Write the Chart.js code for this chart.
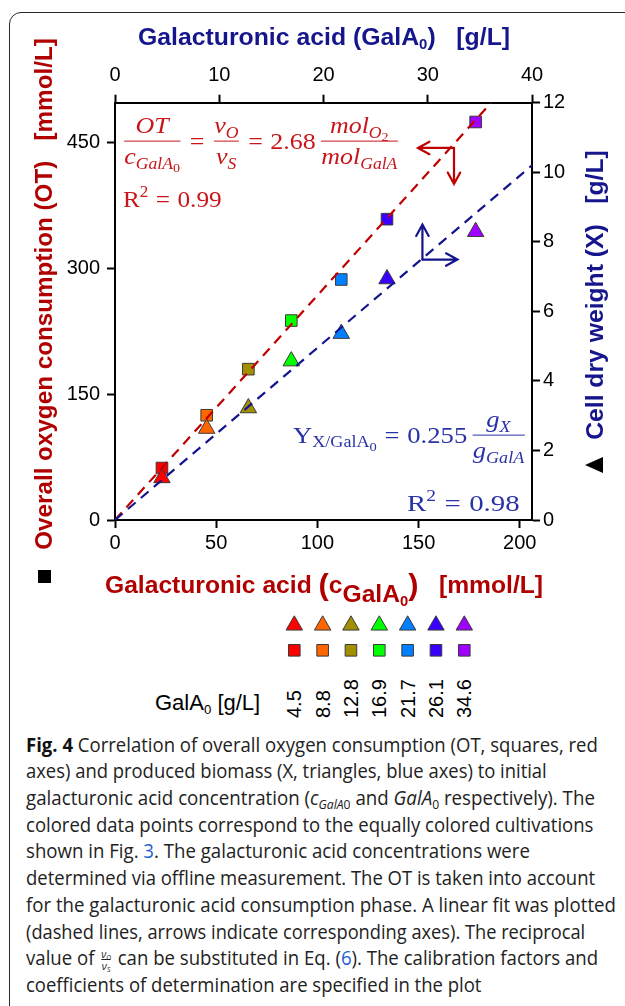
<!DOCTYPE html>
<html><head><meta charset="utf-8">
<script src="https://cdn.jsdelivr.net/npm/chart.js@4.4.1/dist/chart.umd.min.js"></script>
<style>
html,body{margin:0;padding:0;background:#fff;}
body{width:625px;height:1006px;position:relative;overflow:hidden;font-family:"Liberation Sans",Arial,sans-serif;}
#frame{position:absolute;left:9px;top:12px;width:720px;height:1100px;border:1.5px solid #2a2a2a;border-radius:12px;box-sizing:border-box;}
#main{position:absolute;left:0;top:0;}
#leg{position:absolute;left:280px;top:610px;}
.t{position:absolute;white-space:pre;font-weight:bold;line-height:1;font-size:23px;}
.t sub{font-size:60%;position:relative;top:0.3em;vertical-align:baseline;line-height:0;}
.navy{color:#15158c;}
.dred{color:#b00000;}
.eq{position:absolute;display:flex;align-items:center;font-family:"Liberation Serif","DejaVu Serif",serif;font-size:24px;white-space:nowrap;line-height:1.15;}
.eq i{font-style:italic;}
.frac{display:inline-flex;flex-direction:column;align-items:center;margin:0 2px;}
.frac .bar{align-self:stretch;height:1.6px;background:currentColor;margin:1px 0;}
.op{margin:0 7px;}
.eq sub{font-size:0.68em;position:relative;top:0.3em;vertical-align:baseline;line-height:0;}
.eq sub sub{font-size:0.8em;top:0.25em;}
.eq sup{font-size:0.68em;position:relative;top:-0.45em;vertical-align:baseline;line-height:0;}
.red{color:#c8161b;}
.blue{color:#2a33a6;}
.lab{position:absolute;white-space:nowrap;font-size:20px;line-height:1;transform-origin:0 0;transform:rotate(-90deg) translate(0,-50%);color:#000;}
.cl{position:absolute;left:26px;white-space:nowrap;font-family:"Open Sans","Noto Sans",sans-serif;font-size:20px;line-height:26.7px;height:26.7px;color:#222;transform-origin:0 50%;}
.cl b{color:#111;}
.cl sub{font-size:65%;position:relative;top:0.3em;vertical-align:baseline;line-height:0;}
.lnk{color:#1f5fd1;}
.sf{display:inline-flex;flex-direction:column;align-items:center;font-size:11px;line-height:1;vertical-align:middle;font-style:italic;margin:0 2px;}
.sf .b{align-self:stretch;height:1px;background:#222;}
</style>
</head><body>
<div id="frame"></div>
<canvas id="main" width="625" height="600"></canvas>
<canvas id="leg" width="200" height="55"></canvas>

<div class="t navy" id="tTop">Galacturonic acid (GalA<sub>0</sub>)   [g/L]</div>
<div class="t dred" id="tBot">Galacturonic acid <span style="font-size:125%;position:relative;top:0.06em">(</span>c<span style="position:relative;top:0.4em">GalA<sub>0</sub></span><span style="font-size:125%;position:relative;top:0.06em">)</span>   [mmol/L]</div>
<div class="t dred" id="tLeft">Overall oxygen consumption (OT)   [mmol/L]</div>
<div class="t navy" id="tRight">Cell dry weight (X)   [g/L]</div>
<div id="sq" style="position:absolute;left:38px;top:570px;width:13px;height:13px;background:#000;"></div>
<div id="tri" style="position:absolute;left:585px;top:457px;width:0;height:0;border-top:8px solid transparent;border-bottom:8px solid transparent;border-right:18px solid #000;"></div>

<div class="eq red" id="eqRed" style="left:122px;top:141px;">
  <span class="frac"><span><i>OT</i></span><span class="bar"></span><span><i>c</i><sub><i>GalA</i><sub>0</sub></sub></span></span>
  <span class="op">=</span>
  <span class="frac"><span><i>ν</i><sub><i>O</i></sub></span><span class="bar"></span><span><i>ν</i><sub><i>S</i></sub></span></span>
  <span class="op">=</span><span>2.68</span>
  <span class="frac" style="margin-left:5px"><span><i>mol</i><sub><i>O</i><sub>2</sub></sub></span><span class="bar"></span><span><i>mol</i><sub><i>GalA</i></sub></span></span>
</div>
<div class="eq red" id="r2Red" style="left:123px;top:200px;">R<sup>2</sup><span class="op">=</span>0.99</div>
<div class="eq blue" id="eqBlue" style="left:293px;top:435px;">
  <span>Y<sub>X/GalA<sub>0</sub></sub></span><span class="op">=</span><span>0.255</span>
  <span class="frac" style="margin-left:5px"><span><i>g</i><sub><i>X</i></sub></span><span class="bar"></span><span><i>g</i><sub><i>GalA</i></sub></span></span>
</div>
<div class="eq blue" id="r2Blue" style="left:407px;top:504px;">R<sup>2</sup><span class="op">=</span>0.98</div>

<div id="galLab" style="position:absolute;left:155px;top:692px;font-size:22px;line-height:1;white-space:nowrap;">GalA<sub style="font-size:60%;position:relative;top:0.3em;vertical-align:baseline;line-height:0">0</sub> [g/L]</div>
<div id="labs"></div>

<div id="cap"></div>

<script>
// ---------------- data ----------------
const galA_gL   = [4.5, 8.8, 12.8, 16.9, 21.7, 26.1, 34.6];          // legend labels (g/L)
const galA_mmol = [23.2, 45.3, 65.9, 87.1, 111.8, 134.4, 178.2];     // x values (mmol/L)
const otValues  = [62, 125, 180, 238, 287, 359, 475];                // overall oxygen consumption (mmol/L)
const cdwValues = [1.21, 2.63, 3.22, 4.57, 5.36, 6.93, 8.29];        // cell dry weight (g/L)
const pointColors = ['#ff0000', '#ff6600', '#a39000', '#00ff00', '#0080ff', '#3a00ff', '#a000ff'];
const OT_SLOPE = 2.68;      // mol O2 / mol GalA
const X_YIELD = 0.255;      // g X / g GalA
const xTicksMmol = [0, 50, 100, 150, 200];
const xTicksGL = [0, 10, 20, 30, 40];
const yTicksOT = [0, 150, 300, 450];
const yTicksX = [0, 2, 4, 6, 8, 10, 12];
const X_MAX_GL = 40, X_MAX_MMOL = 206.04, OT_MAX = 498, CDW_MAX = 12;

// ---------------- main chart ----------------
const tickFont = {family: '"Liberation Sans", Arial, sans-serif', size: 20};
function axis(pos, min, max, ticks, size, pad) {
  return {
    type: 'linear', position: pos, min: min, max: max,
    afterBuildTicks: s => { s.ticks = ticks.map(v => ({value: v})); },
    afterFit: s => { if (pos === 'left' || pos === 'right') s.width = size; else s.height = size; },
    ticks: {font: tickFont, color: '#000', padding: pad, includeBounds: false},
    grid: {drawOnChartArea: false, drawTicks: true, tickLength: 8, tickWidth: 2, color: '#000'},
    border: {display: true, color: '#000', width: 2}
  };
}

const arrowPlugin = {
  id: 'arrows',
  afterDatasetsDraw(chart) {
    const {ctx, scales} = chart;
    function arrow(x1, y1, x2, y2, col) {
      const a = Math.atan2(y2 - y1, x2 - x1), L = 13, w = 0.5;
      ctx.beginPath();
      ctx.moveTo(x1, y1); ctx.lineTo(x2, y2);
      ctx.moveTo(x2 - L * Math.cos(a - w), y2 - L * Math.sin(a - w));
      ctx.lineTo(x2, y2);
      ctx.lineTo(x2 - L * Math.cos(a + w), y2 - L * Math.sin(a + w));
      ctx.strokeStyle = col; ctx.lineWidth = 2.2; ctx.lineCap = 'round'; ctx.lineJoin = 'miter';
      ctx.stroke();
    }
    ctx.save();
    const rx = scales.x.getPixelForValue(167.5), ry = scales.y.getPixelForValue(444);
    arrow(rx, ry, rx - 36, ry, '#c00000');
    arrow(rx, ry, rx, ry + 36, '#c00000');
    const bx = scales.x.getPixelForValue(151.9), by = scales.y2.getPixelForValue(7.49);
    arrow(bx, by, bx, by - 35, '#14148c');
    arrow(bx, by, bx + 35, by, '#14148c');
    ctx.restore();
  }
};

new Chart(document.getElementById('main'), {
  type: 'scatter',
  data: {
    datasets: [
      {label: 'OT', data: galA_mmol.map((x, i) => ({x: x, y: otValues[i]})), xAxisID: 'x', yAxisID: 'y',
       pointStyle: 'rect', pointRadius: 8.2, backgroundColor: pointColors, borderColor: '#3a3a3a', borderWidth: 1, order: 4},
      {label: 'X', data: galA_mmol.map((x, i) => ({x: x, y: cdwValues[i]})), xAxisID: 'x', yAxisID: 'y2',
       pointStyle: 'triangle', pointRadius: 9.5, backgroundColor: pointColors, borderColor: '#3a3a3a', borderWidth: 1, order: 3},
      {label: 'OT fit', type: 'line', data: [{x: 0, y: 0}, {x: OT_MAX / OT_SLOPE, y: OT_MAX}], xAxisID: 'x', yAxisID: 'y',
       borderColor: '#c00000', borderWidth: 2.2, borderDash: [10, 7], pointRadius: 0, fill: false, order: 1},
      {label: 'X fit', type: 'line', data: [{x: 0, y: 0}, {x: X_MAX_GL, y: X_MAX_GL * X_YIELD}], xAxisID: 'x2', yAxisID: 'y2',
       borderColor: '#14148c', borderWidth: 2.2, borderDash: [10, 7], pointRadius: 0, fill: false, order: 0}
    ]
  },
  options: {
    responsive: false, animation: false, devicePixelRatio: 1,
    layout: {autoPadding: false, padding: {left: 55, right: 33, top: 52.7, bottom: 40}},
    plugins: {legend: {display: false}, tooltip: {enabled: false}},
    scales: {
      x: axis('bottom', 0, X_MAX_MMOL, xTicksMmol, 40, 3),
      x2: axis('top', 0, X_MAX_GL, xTicksGL, 50, 7),
      y: axis('left', 0, OT_MAX, yTicksOT, 60, 7),
      y2: axis('right', 0, CDW_MAX, yTicksX, 60, 3)
    }
  },
  plugins: [arrowPlugin]
});

// ---------------- legend chart ----------------
new Chart(document.getElementById('leg'), {
  type: 'scatter',
  data: {
    datasets: [
      {data: galA_gL.map((v, i) => ({x: i, y: 1})), pointStyle: 'triangle', pointRadius: 9.5,
       backgroundColor: pointColors, borderColor: '#3a3a3a', borderWidth: 1, clip: false},
      {data: galA_gL.map((v, i) => ({x: i, y: 0})), pointStyle: 'rect', pointRadius: 8.2,
       backgroundColor: pointColors, borderColor: '#3a3a3a', borderWidth: 1, clip: false}
    ]
  },
  options: {
    responsive: false, animation: false, devicePixelRatio: 1,
    layout: {autoPadding: false, padding: {left: 14.3, right: 15.7, top: 15.3, bottom: 14.7}},
    plugins: {legend: {display: false}, tooltip: {enabled: false}},
    scales: {x: {display: false, min: 0, max: galA_gL.length - 1}, y: {display: false, min: 0, max: 1}}
  }
});

// legend value labels (rotated)
const labs = document.getElementById('labs');
galA_gL.forEach((v, i) => {
  const s = document.createElement('div');
  s.className = 'lab';
  s.textContent = v.toFixed(1);
  s.style.left = (294.3 + i * 28.33) + 'px';
  s.style.top = '718px';
  labs.appendChild(s);
});

// ---------------- caption ----------------
const capLines = [
  '<b>Fig. 4</b> Correlation of overall oxygen consumption (OT, squares, red',
  'axes) and produced biomass (X, triangles, blue axes) to initial',
  'galacturonic acid concentration (<i>c</i><sub><i>GalA</i>0</sub> and <i>GalA</i><sub>0</sub> respectively). The',
  'colored data points correspond to the equally colored cultivations',
  'shown in Fig. <span class="lnk">3</span>. The galacturonic acid concentrations were',
  'determined via offline measurement. The OT is taken into account',
  'for the galacturonic acid consumption phase. A linear fit was plotted',
  '(dashed lines, arrows indicate corresponding axes). The reciprocal',
  'value of <span class="sf"><span>ν<sub>O</sub></span><span class="b"></span><span>ν<sub>S</sub></span></span> can be substituted in Eq. (<span class="lnk">6</span>). The calibration factors and',
  'coefficients of determination are specified in the plot'
];
const capWidths = [572, 521, 569, 567, 504, 569, 590, 559, 572, 455];
const cap = document.getElementById('cap');
capLines.forEach((h, i) => {
  const d = document.createElement('div');
  d.className = 'cl';
  d.innerHTML = h;
  d.style.top = (731.6 + i * 26.7) + 'px';
  cap.appendChild(d);
  const w = d.scrollWidth;
  d.style.transform = 'scaleX(' + (capWidths[i] / w) + ')';
});

// ---------------- titles ----------------
function place(id, cx, cy, len, rot) {
  const el = document.getElementById(id);
  const w = el.scrollWidth;
  el.style.left = cx + 'px';
  el.style.top = cy + 'px';
  el.style.transform = 'translate(-50%,-50%) rotate(' + rot + 'deg) scaleX(' + (len / w) + ')';
}
place('tTop', 323.8, 37.2, 372, 0);
place('tBot', 324, 583, 438, 0);
place('tLeft', 44, 294, 512, -90);
place('tRight', 595, 295, 290, -90);

// ---------------- equations: stretch to the reference extents ----------------
function fitEq(id, len) {
  const el = document.getElementById(id);
  const w = el.scrollWidth;
  el.style.transformOrigin = '0 50%';
  el.style.transform = 'translateY(-50%) scaleX(' + (len / w) + ')';
}
fitEq('eqRed', 278);
fitEq('r2Red', 99);
fitEq('eqBlue', 234);
fitEq('r2Blue', 113);
</script>
</body></html>
